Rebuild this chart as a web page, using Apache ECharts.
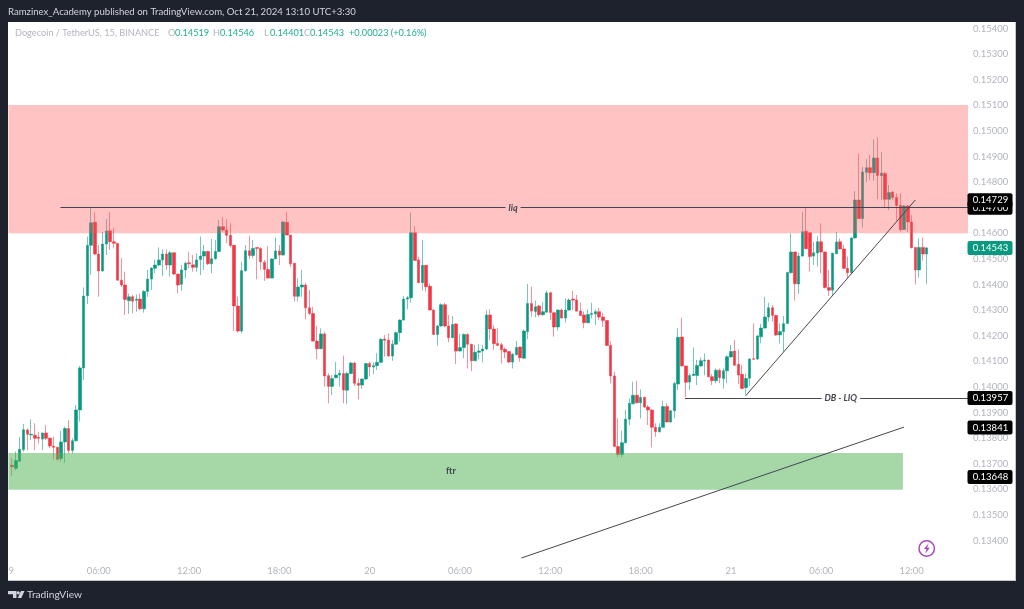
<!DOCTYPE html>
<html>
<head>
<meta charset="utf-8">
<style>
html, body { margin: 0; padding: 0; background: #1e222d; }
#chart { width: 1024px; height: 609px; }
</style>
</head>
<body>
<div id="chart"></div>
<script src="https://cdn.jsdelivr.net/npm/echarts@6/dist/echarts.min.js"></script>
<script>
// candles, one 15 min bar per index
var opens = [
  0.13694,0.13682,0.13710,0.13755,0.13832,0.13812,0.13811,0.13803,0.13796,0.13820,
  0.13800,0.13769,0.13764,0.13720,0.13785,0.13837,0.13752,0.13790,0.13910,0.14074,
  0.14356,0.14553,0.14643,0.14519,0.14453,0.14558,0.14610,0.14567,0.14561,0.14417,
  0.14398,0.14337,0.14352,0.14338,0.14343,0.14305,0.14373,0.14421,0.14463,0.14476,
  0.14496,0.14519,0.14476,0.14524,0.14441,0.14401,0.14457,0.14485,0.14477,0.14467,
  0.14498,0.14511,0.14529,0.14481,0.14501,0.14529,0.14626,0.14613,0.14592,0.14553,
  0.14316,0.14218,0.14454,0.14532,0.14513,0.14545,0.14541,0.14487,0.14459,0.14425,
  0.14500,0.14531,0.14515,0.14643,0.14593,0.14483,0.14354,0.14390,0.14398,0.14309,
  0.14287,0.14179,0.14149,0.14207,0.14044,0.14002,0.14036,0.14046,0.14052,0.13987,
  0.14052,0.14093,0.14014,0.14007,0.14031,0.14091,0.14078,0.14083,0.14096,0.14187,
  0.14183,0.14121,0.14167,0.14212,0.14261,0.14343,0.14348,0.14602,0.14496,0.14407,
  0.14475,0.14393,0.14300,0.14205,0.14238,0.14321,0.14238,0.14192,0.14246,0.14140,
  0.14154,0.14205,0.14167,0.14102,0.14135,0.14140,0.14148,0.14281,0.14226,0.14170,
  0.14165,0.14147,0.14138,0.14097,0.14126,0.14156,0.14112,0.14216,0.14326,0.14295,
  0.14316,0.14282,0.14292,0.14368,0.14290,0.14234,0.14300,0.14269,0.14300,0.14343,
  0.14339,0.14296,0.14281,0.14251,0.14283,0.14285,0.14294,0.14273,0.14259,0.14162,
  0.14043,0.13767,0.13736,0.13782,0.13874,0.13934,0.13967,0.13938,0.13960,0.13921,
  0.13910,0.13842,0.13825,0.13842,0.13923,0.13863,0.13907,0.14011,0.14195,0.14082,
  0.14019,0.14045,0.14045,0.14082,0.14102,0.14105,0.14040,0.14024,0.14065,0.14033,
  0.14063,0.14117,0.14140,0.14088,0.14049,0.13997,0.14034,0.14110,0.14109,0.14196,
  0.14230,0.14273,0.14309,0.14279,0.14203,0.14216,0.14248,0.14446,0.14527,0.14402,
  0.14511,0.14608,0.14602,0.14511,0.14523,0.14567,0.14527,0.14388,0.14378,0.14520,
  0.14567,0.14539,0.14463,0.14446,0.14582,0.14730,0.14658,0.14838,0.14856,0.14837,
  0.14894,0.14825,0.14834,0.14733,0.14761,0.14740,0.14709,0.14615,0.14707,0.14644,
  0.14545,0.14457,0.14545,0.14519
];
var closes = [
  0.13688,0.13712,0.13756,0.13833,0.13815,0.13815,0.13799,0.13799,0.13820,0.13799,
  0.13769,0.13764,0.13717,0.13785,0.13837,0.13752,0.13790,0.13910,0.14074,0.14355,
  0.14553,0.14641,0.14519,0.14453,0.14558,0.14609,0.14567,0.14561,0.14417,0.14398,
  0.14341,0.14352,0.14335,0.14343,0.14305,0.14373,0.14421,0.14464,0.14476,0.14496,
  0.14519,0.14476,0.14524,0.14441,0.14398,0.14457,0.14483,0.14481,0.14467,0.14496,
  0.14511,0.14529,0.14481,0.14501,0.14529,0.14626,0.14613,0.14592,0.14552,0.14316,
  0.14218,0.14454,0.14532,0.14513,0.14541,0.14541,0.14489,0.14459,0.14425,0.14500,
  0.14531,0.14515,0.14644,0.14593,0.14481,0.14354,0.14390,0.14398,0.14309,0.14287,
  0.14179,0.14149,0.14207,0.14043,0.14002,0.14033,0.14046,0.14053,0.13988,0.14052,
  0.14093,0.14014,0.14006,0.14031,0.14091,0.14078,0.14083,0.14096,0.14186,0.14182,
  0.14121,0.14167,0.14212,0.14261,0.14343,0.14348,0.14602,0.14494,0.14407,0.14475,
  0.14391,0.14300,0.14205,0.14238,0.14321,0.14238,0.14192,0.14244,0.14140,0.14154,
  0.14205,0.14167,0.14102,0.14135,0.14140,0.14148,0.14281,0.14226,0.14169,0.14162,
  0.14145,0.14136,0.14097,0.14128,0.14154,0.14114,0.14218,0.14326,0.14296,0.14313,
  0.14282,0.14294,0.14367,0.14291,0.14234,0.14300,0.14269,0.14300,0.14339,0.14339,
  0.14296,0.14279,0.14251,0.14283,0.14287,0.14294,0.14273,0.14259,0.14162,0.14043,
  0.13767,0.13736,0.13782,0.13874,0.13936,0.13967,0.13938,0.13959,0.13921,0.13910,
  0.13842,0.13825,0.13842,0.13923,0.13863,0.13907,0.14013,0.14194,0.14082,0.14018,
  0.14045,0.14050,0.14084,0.14102,0.14105,0.14040,0.14024,0.14065,0.14036,0.14063,
  0.14118,0.14138,0.14085,0.14046,0.13994,0.14033,0.14109,0.14108,0.14199,0.14230,
  0.14273,0.14309,0.14279,0.14203,0.14216,0.14247,0.14447,0.14527,0.14403,0.14511,
  0.14606,0.14540,0.14509,0.14524,0.14567,0.14527,0.14388,0.14378,0.14522,0.14566,
  0.14539,0.14463,0.14446,0.14582,0.14730,0.14658,0.14839,0.14856,0.14837,0.14894,
  0.14826,0.14835,0.14733,0.14759,0.14740,0.14709,0.14614,0.14707,0.14644,0.14544,
  0.14457,0.14545,0.14519,0.14543
];
var lows = [
  0.13652,0.13675,0.13708,0.13747,0.13753,0.13792,0.13753,0.13779,0.13753,0.13792,
  0.13760,0.13717,0.13712,0.13708,0.13704,0.13740,0.13740,0.13786,0.13864,0.14027,
  0.14324,0.14437,0.14515,0.14352,0.14450,0.14515,0.14535,0.14541,0.14415,0.14391,
  0.14281,0.14285,0.14287,0.14294,0.14300,0.14290,0.14352,0.14378,0.14444,0.14472,
  0.14433,0.14457,0.14431,0.14437,0.14365,0.14375,0.14424,0.14463,0.14450,0.14450,
  0.14437,0.14457,0.14476,0.14444,0.14496,0.14528,0.14606,0.14561,0.14545,0.14218,
  0.14212,0.14209,0.14450,0.14498,0.14502,0.14420,0.14457,0.14414,0.14425,0.14424,
  0.14500,0.14476,0.14513,0.14593,0.14467,0.14333,0.14333,0.14352,0.14264,0.14281,
  0.14177,0.14108,0.14147,0.14001,0.13936,0.13968,0.14033,0.14001,0.13936,0.13933,
  0.14050,0.14003,0.13951,0.13992,0.14027,0.14040,0.14050,0.14066,0.14092,0.14118,
  0.14118,0.14102,0.14164,0.14177,0.14259,0.14303,0.14329,0.14493,0.14405,0.14376,
  0.14372,0.14300,0.14203,0.14161,0.14235,0.14233,0.14174,0.14190,0.14089,0.14138,
  0.14112,0.14072,0.14061,0.14102,0.14108,0.14095,0.14144,0.14183,0.14144,0.14161,
  0.14092,0.14112,0.14092,0.14072,0.14123,0.14098,0.14110,0.14187,0.14274,0.14272,
  0.14274,0.14278,0.14290,0.14261,0.14196,0.14220,0.14268,0.14251,0.14298,0.14300,
  0.14294,0.14278,0.14229,0.14248,0.14268,0.14242,0.14261,0.14235,0.14160,0.14014,
  0.13764,0.13725,0.13725,0.13779,0.13851,0.13932,0.13936,0.13877,0.13919,0.13851,
  0.13764,0.13805,0.13822,0.13841,0.13860,0.13860,0.13877,0.13988,0.14079,0.13959,
  0.13988,0.14043,0.14007,0.14079,0.14045,0.14037,0.14007,0.14014,0.14014,0.13993,
  0.14014,0.14114,0.14082,0.14011,0.13990,0.13971,0.14003,0.14107,0.14105,0.14170,
  0.14227,0.14255,0.14255,0.14199,0.14170,0.14137,0.14246,0.14443,0.14337,0.14363,
  0.14509,0.14537,0.14450,0.14476,0.14470,0.14444,0.14385,0.14355,0.14359,0.14519,
  0.14537,0.14460,0.14424,0.14443,0.14579,0.14657,0.14623,0.14800,0.14808,0.14805,
  0.14733,0.14730,0.14701,0.14691,0.14730,0.14649,0.14606,0.14613,0.14606,0.14541,
  0.14400,0.14427,0.14493,0.14401
];
var highs = [
  0.13721,0.13747,0.13803,0.13855,0.13838,0.13873,0.13858,0.13825,0.13821,0.13851,
  0.13800,0.13805,0.13766,0.13829,0.13845,0.13871,0.13799,0.13929,0.14082,0.14389,
  0.14587,0.14701,0.14682,0.14554,0.14606,0.14656,0.14682,0.14623,0.14561,0.14502,
  0.14450,0.14365,0.14359,0.14361,0.14365,0.14378,0.14457,0.14467,0.14498,0.14545,
  0.14537,0.14537,0.14532,0.14524,0.14441,0.14476,0.14489,0.14528,0.14515,0.14522,
  0.14587,0.14554,0.14532,0.14578,0.14574,0.14652,0.14662,0.14656,0.14639,0.14553,
  0.14352,0.14489,0.14554,0.14591,0.14574,0.14545,0.14545,0.14496,0.14550,0.14502,
  0.14584,0.14554,0.14649,0.14684,0.14593,0.14483,0.14424,0.14457,0.14407,0.14378,
  0.14313,0.14238,0.14229,0.14216,0.14053,0.14046,0.14098,0.14066,0.14122,0.14059,
  0.14098,0.14098,0.14033,0.14033,0.14093,0.14098,0.14095,0.14131,0.14190,0.14203,
  0.14209,0.14183,0.14216,0.14264,0.14355,0.14355,0.14681,0.14628,0.14509,0.14574,
  0.14476,0.14404,0.14303,0.14242,0.14326,0.14329,0.14281,0.14277,0.14248,0.14207,
  0.14209,0.14209,0.14167,0.14164,0.14167,0.14164,0.14300,0.14303,0.14242,0.14229,
  0.14173,0.14154,0.14138,0.14131,0.14180,0.14157,0.14225,0.14402,0.14391,0.14337,
  0.14320,0.14330,0.14376,0.14372,0.14294,0.14303,0.14307,0.14346,0.14346,0.14375,
  0.14359,0.14330,0.14294,0.14303,0.14329,0.14303,0.14309,0.14290,0.14261,0.14179,
  0.14059,0.13877,0.13828,0.13910,0.13955,0.14020,0.14024,0.13990,0.13960,0.13929,
  0.13912,0.13858,0.13858,0.13946,0.13936,0.13910,0.14020,0.14229,0.14270,0.14082,
  0.14053,0.14154,0.14105,0.14115,0.14131,0.14105,0.14050,0.14072,0.14072,0.14072,
  0.14123,0.14164,0.14183,0.14147,0.14085,0.14053,0.14111,0.14248,0.14203,0.14246,
  0.14352,0.14329,0.14320,0.14283,0.14248,0.14277,0.14450,0.14600,0.14528,0.14524,
  0.14684,0.14701,0.14602,0.14567,0.14589,0.14639,0.14528,0.14457,0.14524,0.14606,
  0.14580,0.14554,0.14509,0.14584,0.14765,0.14912,0.14860,0.14889,0.14906,0.14967,
  0.14975,0.14917,0.14838,0.14789,0.14765,0.14756,0.14756,0.14710,0.14710,0.14671,
  0.14545,0.14580,0.14584,0.14546
];

var priceTicks = [0.134,0.135,0.136,0.137,0.138,0.139,0.140,0.141,0.142,0.143,0.144,0.145,0.146,0.147,0.148,0.149,0.150,0.151,0.152,0.153,0.154];
var timeTicks = [-1,23,47,71,95,119,143,167,191,215,239];
var timeLabels = ["19","06:00","12:00","18:00","20","06:00","12:00","18:00","21","06:00","12:00"];
// later tags sit on top, so 0.14700 goes first and stays half hidden
var tagPrices = [0.14700,0.14729,0.14543,0.13957,0.13841,0.13648];
var tagColors = ["#000000","#000000","#089981","#000000","#000000","#000000"];

var xMin = -1, xMax = 254;
var font = "Lato, sans-serif";
var gray = "#b2b5be";
var dark = "#1e222d";
var ink = "#434651";

var candles = opens.map(function (o, i) {
  return [i, o, closes[i], lows[i], highs[i]];
});

// header pieces: text, left edge, colour
var legendParts = [
  ["Dogecoin / TetherUS, 15, BINANCE", 15, gray],
  ["O", 168, gray], ["0.14519", 175, "#22ab94"],
  ["H", 213, gray], ["0.14546", 220, "#22ab94"],
  ["L", 264, gray], ["0.14401", 270, "#22ab94"],
  ["C", 304, gray], ["0.14543", 310, "#22ab94"],
  ["+0.00023 (+0.16%)", 349, "#22ab94"]
];

function drawingLabel(text, x, price, bg, italic) {
  return {
    coord: [x, price],
    label: {
      show: true,
      position: "inside",
      formatter: text,
      color: ink,
      fontFamily: font,
      fontSize: 9,
      fontStyle: italic ? "italic" : "normal",
      fontWeight: 700,
      backgroundColor: bg,
      padding: [1, 3]
    }
  };
}

var chart = echarts.init(document.getElementById("chart"));

var graphics = [
  { type: "rect", z: -10, shape: { x: 8, y: 22, width: 1008, height: 559 }, style: { fill: "#ffffff" } },
  { type: "rect", z: -9, shape: { x: 8, y: 580, width: 1008, height: 1 }, style: { fill: "#c4c6cc" } },
  { type: "rect", z: -9, shape: { x: 1015, y: 22, width: 1, height: 559 }, style: { fill: "#c4c6cc" } },
  // hides the "1" of the day label at the left edge
  { type: "rect", z: 100, shape: { x: 0, y: 22, width: 8, height: 560 }, style: { fill: dark } },
  { type: "text", z: 101, x: 8, y: 12, style: { text: "Ramzinex_Academy published on TradingView.com, Oct 21, 2024 13:10 UTC+3:30", fill: "#d1d4dc", font: "9.6px " + font, verticalAlign: "middle" } },
  // logo
  { type: "polygon", z: 101, shape: { points: [[8, 591], [16.5, 591], [16.5, 598], [13, 598], [13, 594.2], [8, 594.2]] }, style: { fill: "#d1d4dc" } },
  { type: "circle", z: 101, shape: { cx: 18.2, cy: 592.8, r: 1.6 }, style: { fill: "#d1d4dc" } },
  { type: "polygon", z: 101, shape: { points: [[21, 591], [24.5, 591], [21.3, 598], [17.7, 598]] }, style: { fill: "#d1d4dc" } },
  { type: "text", z: 101, x: 27, y: 595, style: { text: "TradingView", fill: "#d1d4dc", font: "10.2px " + font, verticalAlign: "middle" } },
  // lightning badge
  { type: "circle", z: 101, shape: { cx: 926.7, cy: 548.5, r: 7.7 }, style: { fill: "none", stroke: "#ab47bc", lineWidth: 1.5 } },
  { type: "polygon", z: 101, shape: { points: [[928.5, 543.5], [923.9, 549.1], [926.5, 549.1], [925.2, 553.5], [929.9, 547.7], [927.2, 547.7]] }, style: { fill: "#ab47bc" } }
];
legendParts.forEach(function (p) {
  graphics.push({ type: "text", z: 101, x: p[1], y: 33.5, style: { text: p[0], fill: p[2], font: "9.2px " + font, verticalAlign: "middle" } });
});

var option = {
  animation: false,
  backgroundColor: dark,
  graphic: graphics,
  grid: { left: 8, right: 56, top: 22, bottom: 48 },
  xAxis: {
    type: "value",
    min: xMin,
    max: xMax,
    splitLine: { show: false },
    axisLine: { show: false },
    axisTick: { show: false },
    axisLabel: {
      color: gray,
      fontFamily: font,
      fontSize: 9.4,
      margin: 5,
      customValues: timeTicks,
      formatter: function (v) { return timeLabels[timeTicks.indexOf(v)]; }
    }
  },
  yAxis: {
    type: "value",
    position: "right",
    min: 0.133199,
    max: 0.154254,
    splitLine: { show: false },
    axisLine: { show: false },
    axisTick: { show: false },
    axisLabel: {
      color: gray,
      fontFamily: font,
      fontSize: 9.5,
      margin: 5,
      customValues: priceTicks,
      formatter: function (v) { return v.toFixed(5); }
    }
  },
  series: [
    {
      type: "candlestick",
      z: 2,
      barWidth: 3,
      encode: { x: 0, y: [1, 2, 3, 4] },
      data: candles,
      itemStyle: {
        color: "#089981",
        color0: "#f23645",
        borderColor: "rgba(8,153,129,0.55)",
        borderColor0: "rgba(242,54,69,0.55)",
        borderWidth: 1
      },
      markArea: {
        silent: true,
        z: 3,
        data: [
          [
            { xAxis: xMin, yAxis: 0.15101, itemStyle: { color: "rgba(255,82,82,0.35)" } },
            { xAxis: xMax, yAxis: 0.146 }
          ],
          [
            { xAxis: xMin, yAxis: 0.13742, itemStyle: { color: "rgba(76,175,80,0.5)" } },
            { xAxis: 236.7, yAxis: 0.13598 }
          ]
        ]
      },
      markLine: {
        silent: true,
        symbol: "none",
        z: 5,
        label: { show: false },
        lineStyle: { color: ink, width: 1, type: "solid" },
        data: [
          [{ coord: [12.8, 0.147] }, { coord: [xMax, 0.147] }],
          [{ coord: [178.8, 0.13957] }, { coord: [xMax, 0.13957] }],
          [{ coord: [194.9, 0.13965] }, { coord: [240, 0.1473] }],
          [{ coord: [135.3, 0.133316] }, { coord: [237, 0.13843] }]
        ]
      },
      markPoint: {
        silent: true,
        symbol: "circle",
        symbolSize: 0,
        z: 6,
        data: [
          drawingLabel("liq", 133.1, 0.147, "#ffc2c2", true),
          drawingLabel("DB - LIQ", 220.2, 0.13957, "#ffffff", true),
          drawingLabel("ftr", 116.6, 0.1367, "transparent", false)
        ]
      }
    },
    {
      // price tags sitting on the axis
      type: "custom",
      z: 10,
      silent: true,
      data: tagPrices.map(function (p) { return [xMax, p]; }),
      encode: { x: 0, y: 1 },
      renderItem: function (params, api) {
        var p = api.coord([api.value(0), api.value(1)]);
        return {
          type: "group",
          children: [
            { type: "rect", shape: { x: p[0] - 0.5, y: p[1] - 7, width: 45, height: 14, r: 2 }, style: { fill: tagColors[params.dataIndex] } },
            { type: "text", style: { x: p[0] + 22.5, y: p[1], text: api.value(1).toFixed(5), fill: "#ffffff", font: "9.5px " + font, align: "center", verticalAlign: "middle" } }
          ]
        };
      }
    }
  ]
};

chart.setOption(option);
</script>
</body>
</html>
